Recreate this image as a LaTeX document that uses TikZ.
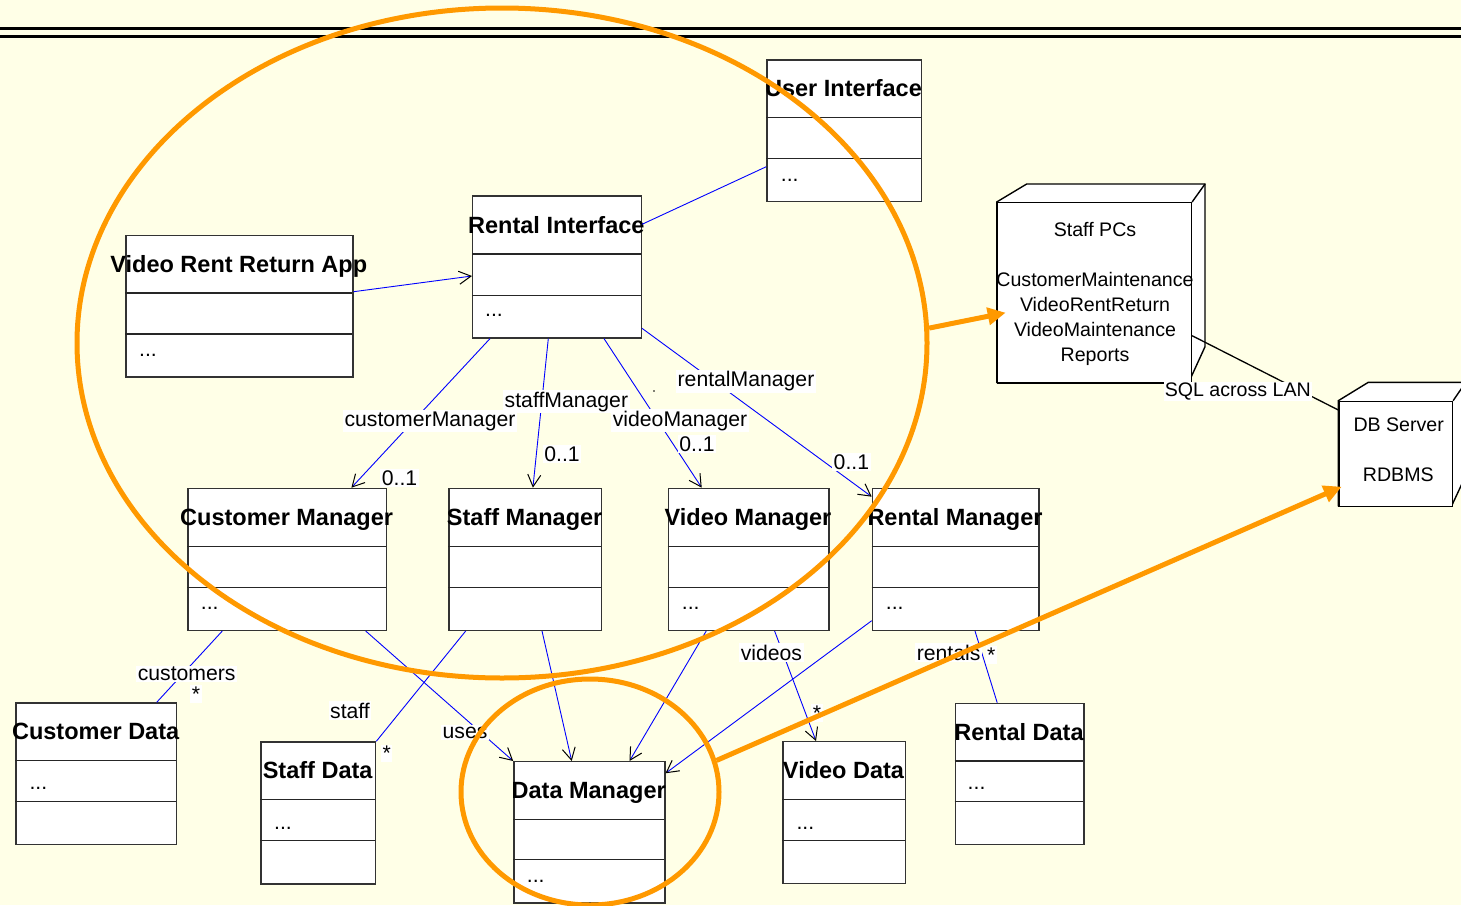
\documentclass[tikz,border=0pt]{standalone}
\usepackage{fontspec}
\setmainfont{Liberation Sans}
\usetikzlibrary{arrows.meta,shapes.geometric,calc}
\definecolor{bgc}{RGB}{255,255,231}
\definecolor{hlc}{RGB}{255,153,0}
\definecolor{assocblue}{RGB}{0,0,255}
\newcommand\clsfont{\fontsize{23.5}{27}\selectfont\bfseries}
\newcommand\lblfont{\fontsize{21.2}{25}\selectfont}
\newcommand\depfont{\fontsize{19.6}{24}\selectfont}
\newcommand{\umlclass}[8]{%
  \node[clsbox, anchor=north west, minimum width={(#4)-(#2)}, minimum height={(#5)-(#3)}] (#1) at (#2,#3) {};
  \draw[clsline] (#2,#6) -- (#4,#6) (#2,#7) -- (#4,#7);
  \node[clstitle] at ({((#2)+(#4))/2},{((#3)+(#6))/2+8.4}) {#8};
}
\begin{document}
\begin{tikzpicture}[x=1pt,y=-1pt,
  clsbox/.style={draw=black!80, line width=1.3pt, fill=white, inner sep=0pt},
  clsline/.style={draw=black!85, line width=1.2pt},
  clstitle/.style={anchor=base, inner sep=0pt, font=\clsfont},
  dots/.style={anchor=base west, inner sep=0pt, font=\lblfont},
  assoc/.style={draw=assocblue, line width=0.9pt},
  nav/.style={assoc, -{Straight Barb[color=black, length=12pt, width=13pt, line width=1pt]}},
  lbl/.style={fill=white, inner sep=1.5pt, anchor=base, font=\lblfont},
  depbox/.style={draw=black, line width=1.4pt, fill=white},
  deptext/.style={anchor=base, inner sep=0pt, font=\depfont},
  hl/.style={draw=hlc, line width=5pt},
  harrow/.style={draw=hlc, line width=5pt, -{Triangle[length=18pt, width=17pt, color=hlc]}}
]
\useasboundingbox (0,0) rectangle (1461,905);
\fill[bgc] (0,0) rectangle (1461,905);
% header rules
\draw[line width=2.8pt] (0,28.5) -- (1461,28.5);
\draw[line width=2.8pt] (0,36.2) -- (1461,36.2);

% classes
\umlclass{ui}{766.3}{59.3}{920.7}{201}{117.7}{158.3}{User Interface}
\umlclass{ri}{472}{195.3}{640.7}{337.3}{254}{295.3}{Rental Interface}
\umlclass{vrra}{125.3}{234.7}{352.3}{376.3}{293}{334}{Video Rent Return App}
\umlclass{cm}{187.3}{487.7}{386}{629.7}{546.3}{587.3}{Customer Manager}
\umlclass{sm}{448.3}{487.7}{601}{629.7}{546.3}{587.3}{Staff Manager}
\umlclass{vm}{667.7}{487.7}{828.3}{629.7}{546.3}{587.3}{Video Manager}
\umlclass{rm}{871.7}{487.7}{1038.3}{629.7}{546.3}{587.3}{Rental Manager}
\umlclass{cd}{15.3}{702.3}{176}{844}{760.7}{801.7}{Customer Data}
\umlclass{sd}{260.3}{741.3}{375}{883.3}{799.7}{840.3}{Staff Data}
\umlclass{dm}{513.2}{761}{664.2}{902.3}{819.3}{859.7}{Data Manager}
\umlclass{vd}{782.4}{741}{904.6}{883}{799.7}{840.3}{Video Data}
\umlclass{rd}{954.5}{702.7}{1083.4}{844}{761}{801.3}{Rental Data}

% compartment contents
\node[dots] (uid) at (780.7,181) {...};
\node[dots] (rid) at (485,316) {...};
\node[dots] (vrrad) at (139,356) {...};
\node[dots] (cmd) at (200.7,609.3) {...};
\node[dots] (vmd) at (681.7,609) {...};
\node[dots] (rmd) at (885.7,609) {...};
\node[dots] (cdd) at (29.3,789.3) {...};
\node[dots] (sdd) at (274,829.3) {...};
\node[dots] (dmd) at (526.7,882.7) {...};
\node[dots] (vdd) at (796.3,829.3) {...};
\node[dots] (rdd) at (967.5,789.3) {...};

% associations
\draw[nav] (vrra.east |- 0,291.7) -- (ri.west |- 0,276);
\draw[assoc] (ri.east |- 0,224.3) -- (ui.west |- 0,166.7);
\draw[nav] (ri.south -| 490,0) -- (cm.north -| 351.4,0);
\draw[nav] (ri.south -| 548.3,0) -- (sm.north -| 532.9,0);
\draw[nav] (ri.south -| 604,0) -- (vm.north -| 701.7,0);
\draw[nav] (ri.east |- 0,328.3) -- (rm.west |- 0,496.7);
\draw[assoc] (cm.south -| 222.3,0) -- (cd.north -| 156.7,0);
\draw[nav] (cm.south -| 365.7,0) -- (dm.north west);
\draw[assoc] (sm.south -| 465.7,0) -- (sd.north east);
\draw[nav] (sm.south -| 542,0) -- (dm.north -| 571.7,0);
\draw[nav] (vm.south -| 706.2,0) -- (dm.north -| 629.5,0);
\draw[nav] (vm.south -| 774.6,0) -- (vd.north -| 816,0);
\draw[nav] (rm.west |- 0,620.7) -- (dm.east |- 0,773.3);
\draw[assoc] (rm.south -| 975,0) -- (rd.north -| 997.2,0);

% association labels
\node[lbl] (l1) at (430,426) {customerManager};
\node[lbl] (l2) at (566.4,407.3) {staffManager};
\node[lbl] (l3) at (680,426) {videoManager};
\node[lbl] (l4) at (746,386.7) {rentalManager};
\node[lbl] (m1) at (399.6,485) {0..1};
\node[lbl] (m2) at (562,461.7) {0..1};
\node[lbl] (m3) at (697,451.7) {0..1};
\node[lbl] (m4) at (851.4,469.3) {0..1};
\node[lbl] (l5) at (186.7,680.7) {customers};
\node[lbl] (s1) at (196,701) {*};
\node[lbl] (l6) at (350,718.3) {staff};
\node[lbl] (s2) at (386.7,760.7) {*};
\node[lbl] (l7) at (465,738.3) {uses};
\node[lbl] (l8) at (771.4,660) {videos};
\node[lbl] (s3) at (816.9,720) {*};
\node[lbl] (l9) at (948.6,660) {rentals};
\node[lbl] (s4) at (991.3,662) {*};
\fill (654,391) circle (0.9);

% deployment nodes
\filldraw[depbox] (996.7,202) -- (1026.7,184) -- (1205,184) -- (1205,346.7) -- (1190.7,378) -- (1190.7,382.3) -- (996.7,382.3) -- cycle;
\node[depbox, anchor=north west, minimum width=194, minimum height=180.3, inner sep=0pt] (pcs) at (996.7,202) {};
\draw[line width=1.4pt] (pcs.north east) -- (1205,184);
\node[deptext] (pcs1) at (1095,236) {Staff PCs};
\node[deptext] (pcs2) at (1095,286) {CustomerMaintenance};
\node[deptext] (pcs3) at (1095,311) {VideoRentReturn};
\node[deptext] (pcs4) at (1095,336) {VideoMaintenance};
\node[deptext] (pcs5) at (1095,361) {Reports};

\filldraw[depbox] (1338.3,400.7) -- (1368.3,382.3) -- (1465.7,382.3) -- (1465.7,475.7) -- (1451.7,505.7) -- (1338.3,505.7) -- cycle;
\node[depbox, anchor=north west, minimum width=113.4, minimum height=105, inner sep=0pt] (db) at (1338.3,400.7) {};
\draw[line width=1.4pt] (db.north east) -- (1465.7,382.3);
\node[deptext] (db1) at (1398.7,431) {DB Server};
\node[deptext] (db2) at (1398.3,481) {RDBMS};

\draw[line width=1.3pt] (pcs.east |- 0,335.7) -- (db.west |- 0,410);
\node[deptext, fill=white, inner sep=1pt] (sql) at (1237.8,396.7) {SQL across LAN};

% highlights
\node[hl, ellipse, minimum width=850, minimum height=670, inner sep=0pt] (grp) at (502,343) {};
\node[hl, ellipse, minimum width=258, minimum height=226, inner sep=0pt] (dmgrp) at (590,792) {};
\draw[harrow] (grp.2) -- ($(pcs.west |- 0,312.7)+(9,0)$);
\draw[harrow] (dmgrp.14) -- ($(db.west |- 0,486.7)+(3.4,0)$);
\end{tikzpicture}
\end{document}
